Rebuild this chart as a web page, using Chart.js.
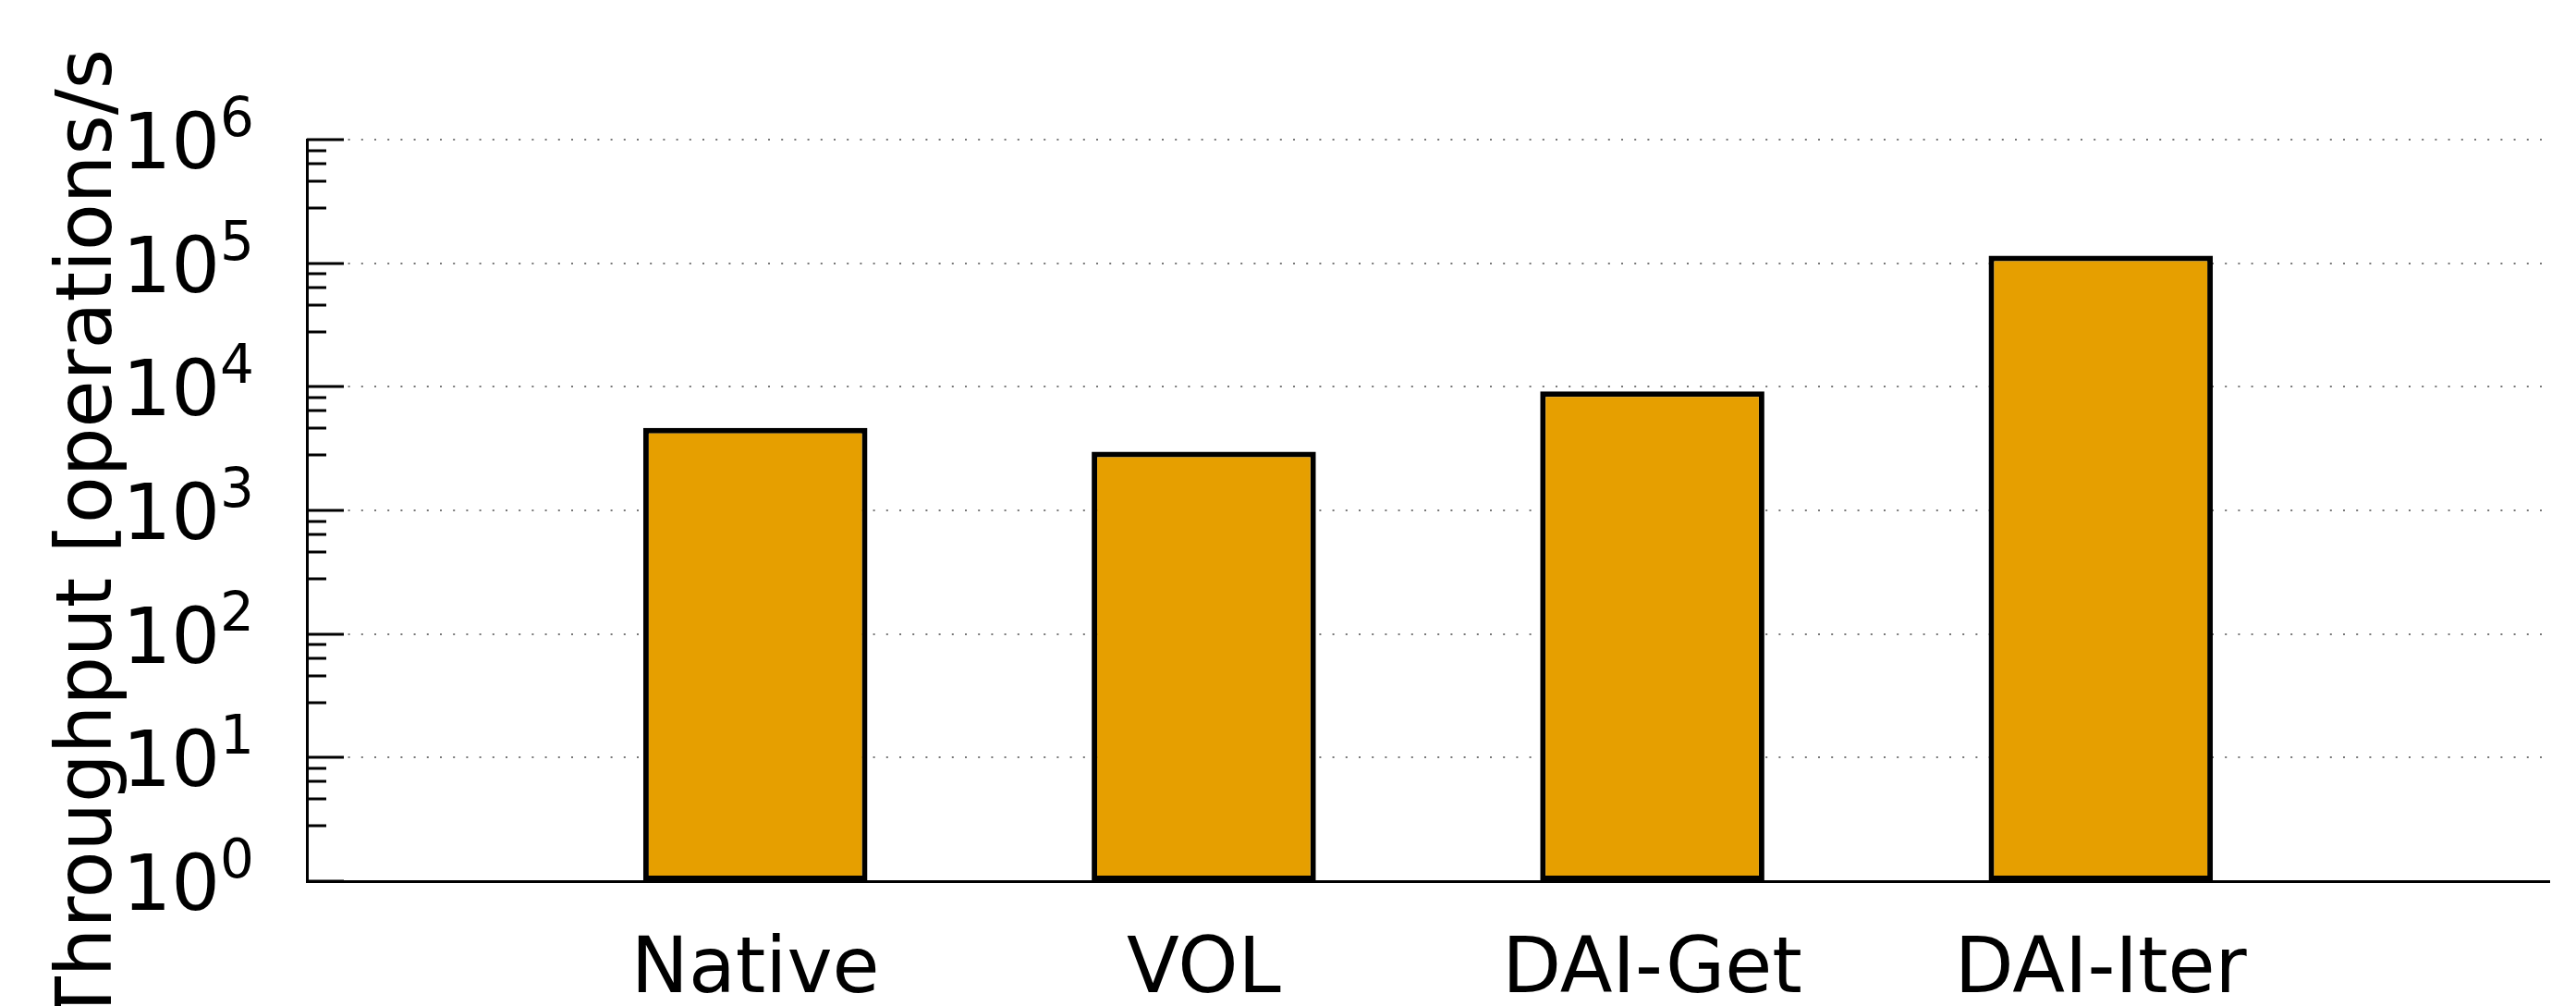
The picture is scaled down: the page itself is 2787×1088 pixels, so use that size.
<!DOCTYPE html>
<html>
<head>
<meta charset="utf-8">
<script src="https://cdn.jsdelivr.net/npm/chart.js@4.4.1/dist/chart.umd.min.js"></script>
<style>
  html, body { margin: 0; padding: 0; background: #fff; }
  #wrap { width: 2787px; height: 1088px; position: relative; }
</style>
</head>
<body>
<div id="wrap"><canvas id="throughputChart"></canvas></div>
<script>
// --- data ---
const categories = ['Native', 'VOL', 'DAI-Get', 'DAI-Iter'];
const throughput = [4650, 2980, 9170, 115000];
const yExponents = [0, 1, 2, 3, 4, 5, 6];
const yMinorSteps = [2.8, 4.6, 6.4, 8.2];   // gnuplot-style mytics 5 on log axis
const yTitle = 'Throughput [operations/s';

const FONT = 'DejaVu Sans';

// blank slots either side so the axis runs from -1 to 4
const xLabels = ['', ...categories, ''];
const barData = [null, ...throughput, null];

const isMajor = v => yExponents.some(e => Math.abs(Math.pow(10, e) - v) < 1e-6 * v);

// inward tick marks, superscript tick labels and the rotated axis title
const axisDecor = {
    id: 'axisDecor',
    afterDraw(chart) {
        const { ctx, chartArea, scales: { y } } = chart;
        ctx.save();
        ctx.strokeStyle = '#000';
        ctx.lineWidth = 3;
        y.ticks.forEach(t => {
            const py = Math.round(y.getPixelForValue(t.value));
            const len = t.major ? 40 : 21;
            ctx.beginPath();
            ctx.moveTo(chartArea.left, py);
            ctx.lineTo(chartArea.left + len, py);
            ctx.stroke();
        });

        ctx.fillStyle = '#000';
        ctx.textBaseline = 'alphabetic';
        const xJoin = chartArea.left - 94;
        yExponents.forEach(e => {
            const py = y.getPixelForValue(Math.pow(10, e));
            ctx.font = `83px "${FONT}"`;
            ctx.textAlign = 'right';
            ctx.fillText('10', xJoin, py + 31);
            ctx.font = `58px "${FONT}"`;
            ctx.textAlign = 'left';
            ctx.fillText(String(e), xJoin, py - 4);
        });

        ctx.translate(120, 580);
        ctx.rotate(-Math.PI / 2);
        ctx.font = `83px "${FONT}"`;
        ctx.textAlign = 'center';
        ctx.fillText(yTitle, 0, 0);
        ctx.restore();
    }
};

new Chart(document.getElementById('throughputChart'), {
    type: 'bar',
    data: {
        labels: xLabels,
        datasets: [{
            data: barData,
            backgroundColor: '#E69F00',
            borderColor: '#000',
            borderWidth: 6,
            borderSkipped: false,
            categoryPercentage: 0.5,
            barPercentage: 1.0
        }]
    },
    options: {
        responsive: true, maintainAspectRatio: false, animation: false,
        layout: { padding: { left: 332, top: 151, right: 29, bottom: 0 } },
        plugins: { legend: { display: false }, tooltip: { enabled: false } },
        scales: {
            x: {
                offset: false,
                afterFit: scale => { scale.height = 135; },
                grid: { display: false, drawTicks: false },
                border: { display: true, color: '#000', width: 3 },
                ticks: {
                    autoSkip: false, maxRotation: 0, padding: 0, color: '#000',
                    font: { family: FONT, size: 83, lineHeight: 2.37 }
                }
            },
            y: {
                type: 'logarithmic', min: 1, max: 1e6,
                afterBuildTicks: scale => {
                    const ticks = [];
                    yExponents.forEach(e => {
                        ticks.push({ value: Math.pow(10, e), major: true });
                        if (e < yExponents[yExponents.length - 1]) {
                            yMinorSteps.forEach(k => ticks.push({ value: k * Math.pow(10, e), major: false }));
                        }
                    });
                    scale.ticks = ticks;
                },
                ticks: { display: false, autoSkip: false },
                grid: {
                    drawTicks: false,
                    lineWidth: 2,
                    color: c => (c.tick && isMajor(c.tick.value)) ? '#777' : 'rgba(0,0,0,0)'
                },
                border: { display: true, color: '#000', width: 3, dash: [2, 12.2] }
            }
        }
    },
    plugins: [axisDecor]
});
</script>
</body>
</html>
